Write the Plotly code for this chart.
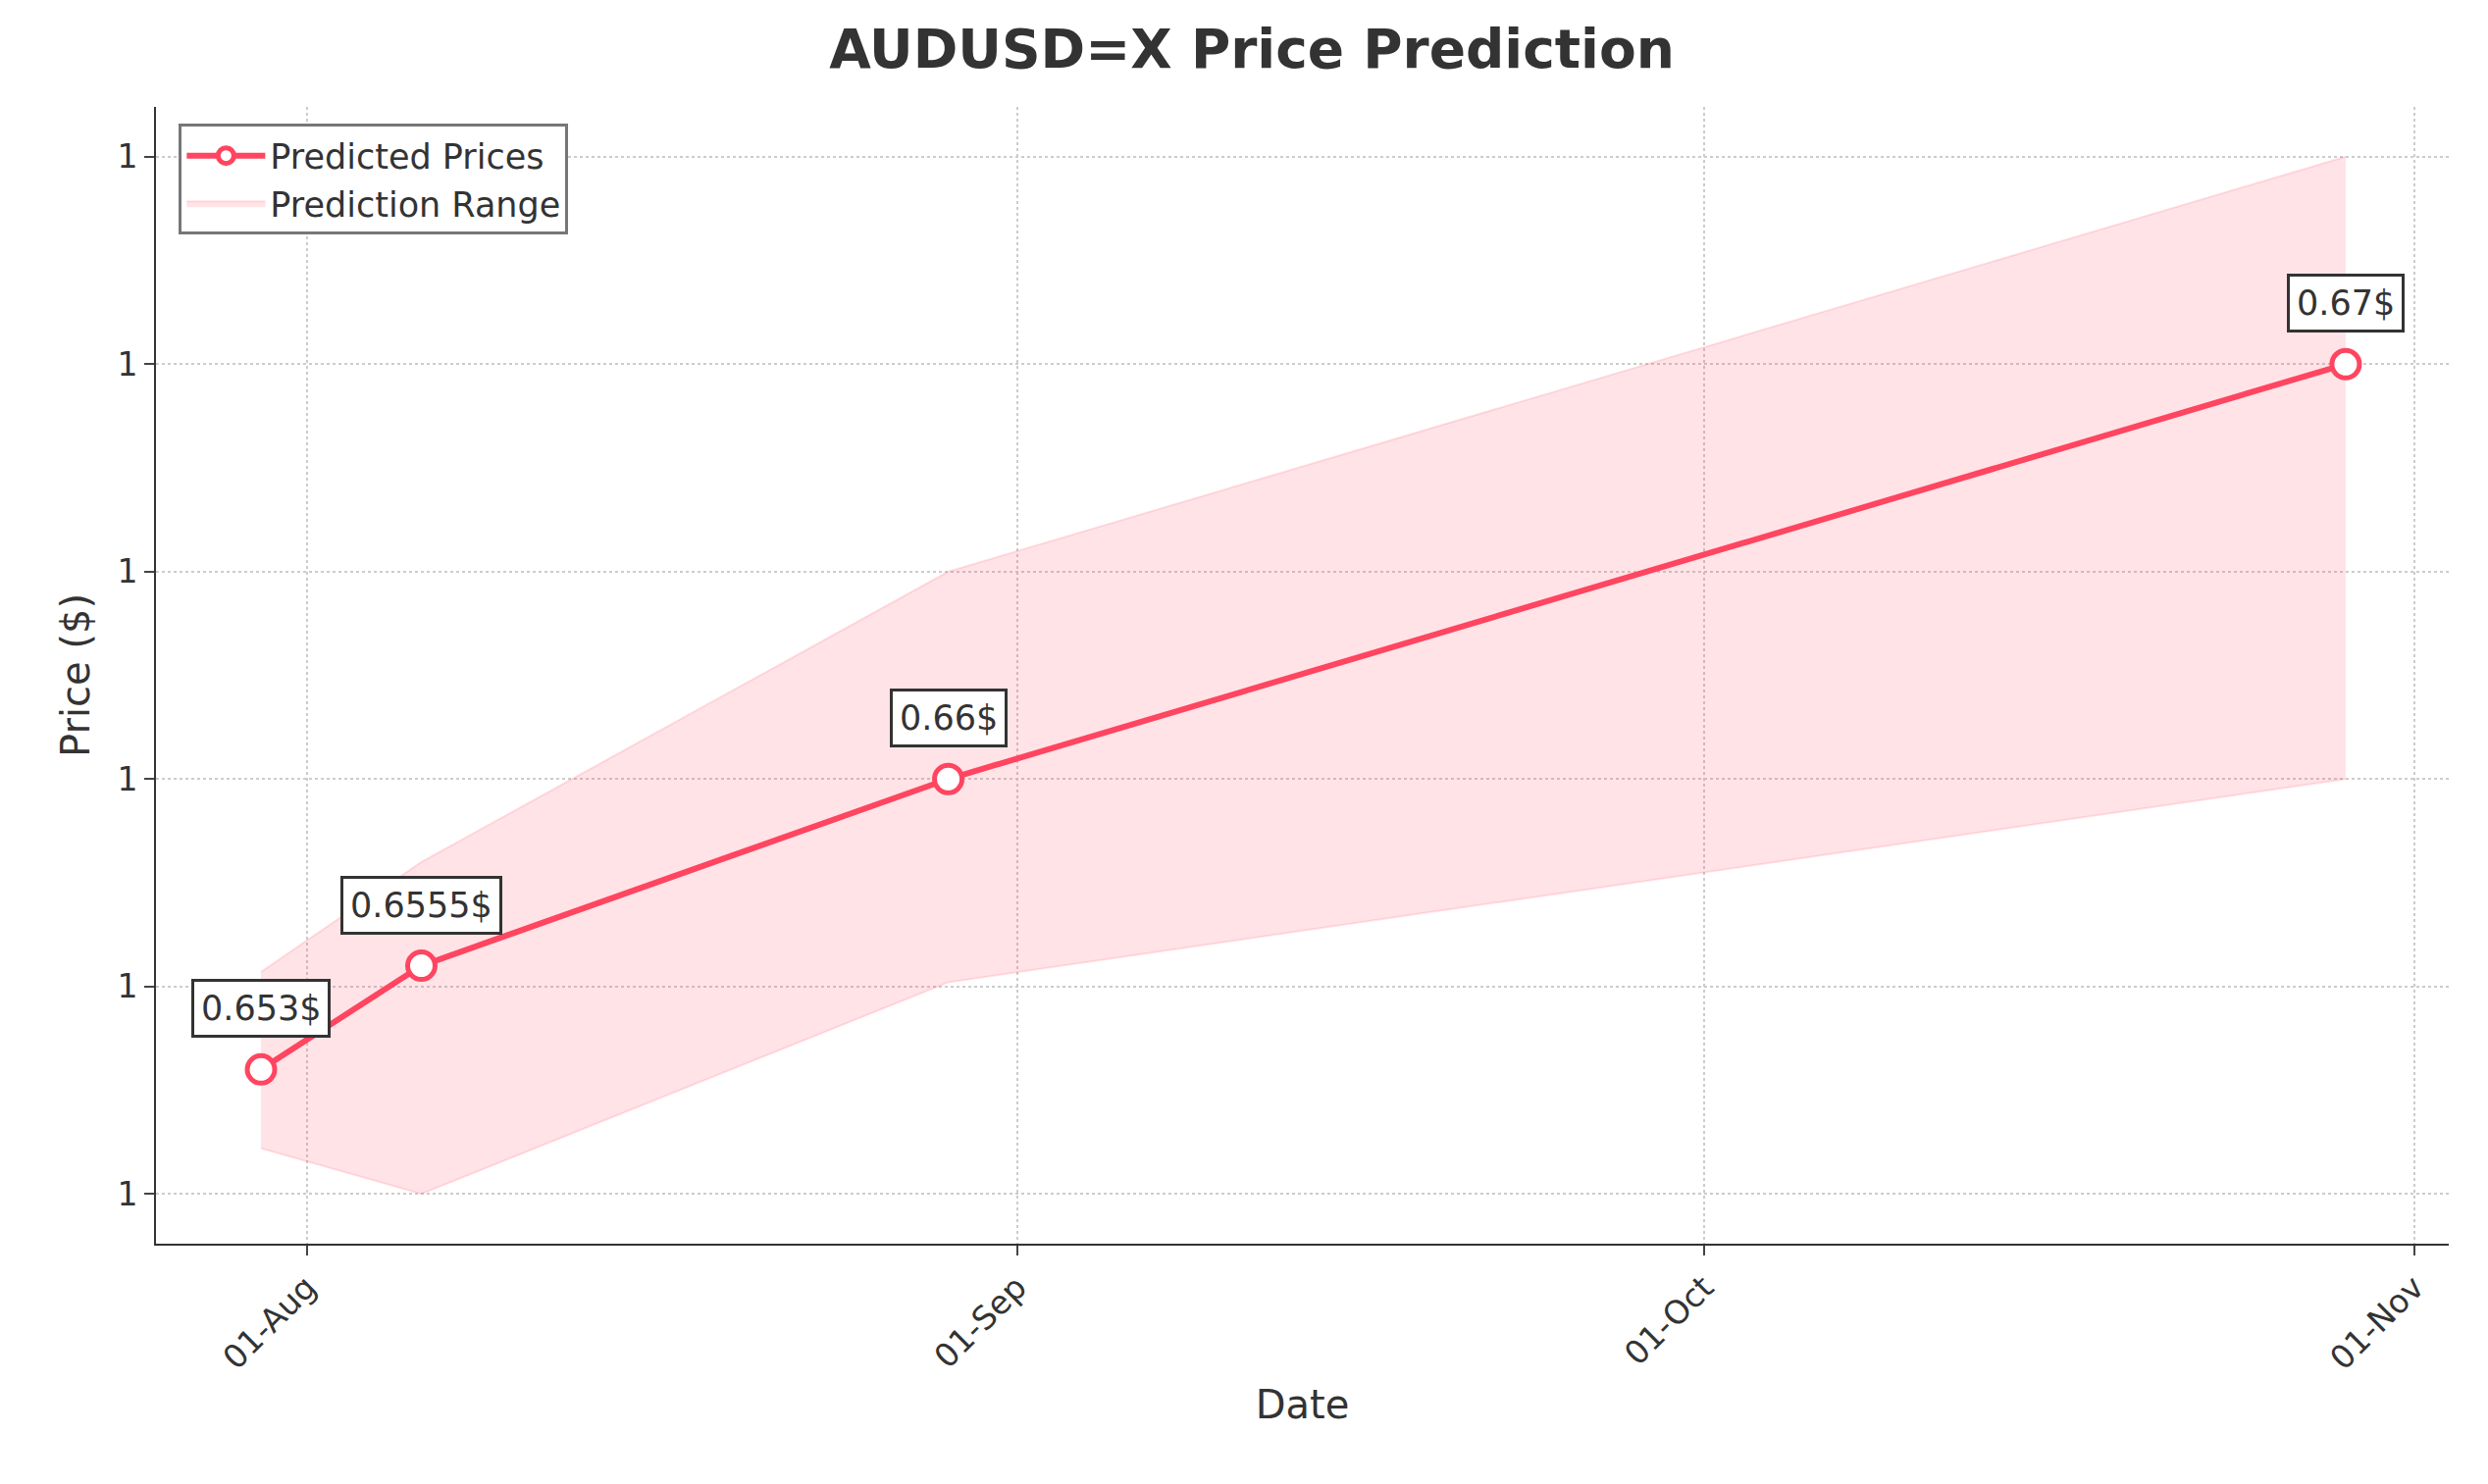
import plotly.graph_objects as go

dates = ["2024-07-30", "2024-08-06", "2024-08-29", "2024-10-29"]
predicted = [0.653, 0.6555, 0.66, 0.67]
upper = [0.65535, 0.658, 0.665, 0.675]
lower = [0.6511, 0.65, 0.6551, 0.66]
labels = ["0.653$", "0.6555$", "0.66$", "0.67$"]
ytick_vals = [0.65, 0.655, 0.66, 0.665, 0.67, 0.675]
ytick_text = ["1"] * 6
xtick_vals = ["2024-08-01", "2024-09-01", "2024-10-01", "2024-11-01"]
xtick_text = ["01-Aug", "01-Sep", "01-Oct", "01-Nov"]

red = "#ff4560"
fig = go.Figure()
fig.add_trace(go.Scatter(x=dates, y=upper, mode="lines", line=dict(width=2, color="rgba(255,69,96,0.15)"),
                         showlegend=False, hoverinfo="skip"))
fig.add_trace(go.Scatter(x=dates, y=lower, mode="lines", fill="tonexty",
                         fillcolor="rgba(255,69,96,0.15)", line=dict(width=2, color="rgba(255,69,96,0.15)"),
                         name="Prediction Range"))
fig.add_trace(go.Scatter(x=dates, y=predicted, mode="lines+markers", name="Predicted Prices",
                         line=dict(color=red, width=6),
                         marker=dict(size=28, color="white", line=dict(color=red, width=5))))

for d, p, t in zip(dates, predicted, labels):
    fig.add_annotation(x=d, y=p, text=t, showarrow=True, arrowcolor="rgba(0,0,0,0)", ax=0, ay=-62,
                       font=dict(size=35, color="#333"), bgcolor="white", bordercolor="#333",
                       borderwidth=3, borderpad=7)

grid = dict(showgrid=True, gridcolor="#cccccc", griddash="dot", gridwidth=2)
fig.update_layout(
    width=2536, height=1513, plot_bgcolor="white", paper_bgcolor="white",
    font=dict(family="DejaVu Sans", color="#333"),
    margin=dict(l=151, r=48, t=101, b=253),
    title=dict(text="<b>AUDUSD=X Price Prediction</b>", x=0.5, y=0.985, yanchor="top",
               font=dict(size=55, color="#333")),
    legend=dict(x=0.01, y=0.985, xanchor="left", yanchor="top", bordercolor="#777", borderwidth=3,
                bgcolor="white", font=dict(size=35), traceorder="reversed", itemwidth=80),
    xaxis=dict(range=["2024-07-25 10:00", "2024-11-02 12:00"], tickvals=xtick_vals, ticktext=xtick_text,
               tickangle=-45, tickfont=dict(size=33), ticks="outside", ticklen=10, tickwidth=2,
               showline=True, linecolor="#333", linewidth=2,
               title=dict(text="Date", font=dict(size=40)), **grid),
    yaxis=dict(range=[0.6488, 0.6762], tickvals=ytick_vals, ticktext=ytick_text,
               tickfont=dict(size=33), ticks="outside", ticklen=10, tickwidth=2,
               showline=True, linecolor="#333", linewidth=2,
               title=dict(text="Price ($)", font=dict(size=40)), **grid),
)
fig.write_html("out.html")
